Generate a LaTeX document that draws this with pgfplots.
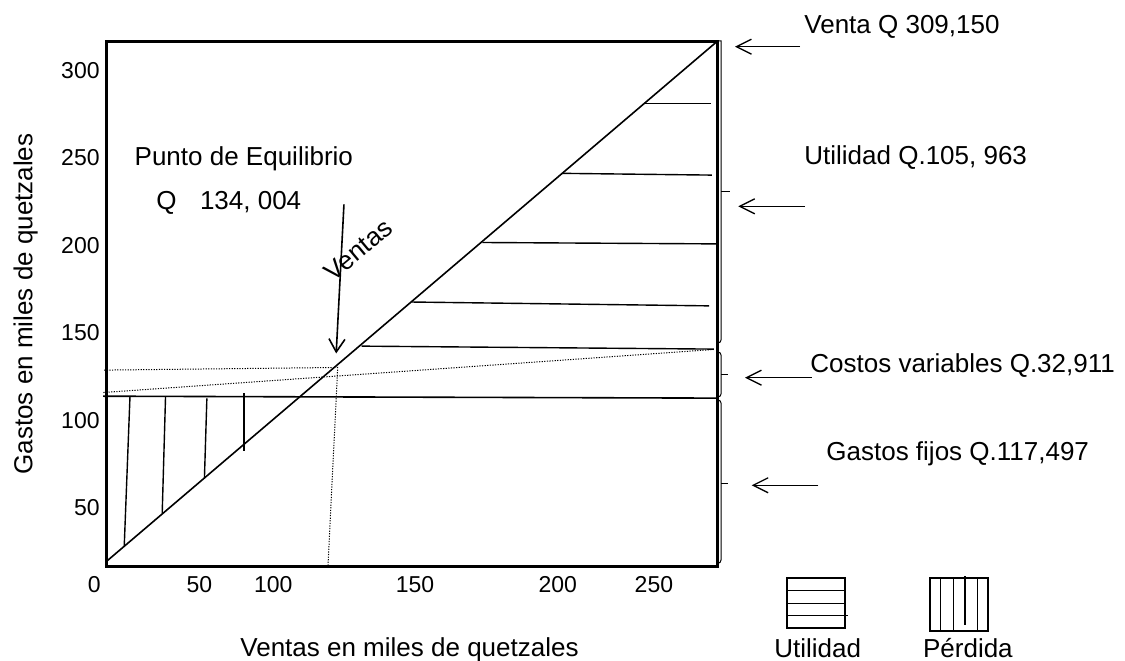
\documentclass[border=0pt]{standalone}
\usepackage{fontspec}
\setmainfont{Liberation Sans}
\usepackage{pgfplots}
\pgfplotsset{compat=1.18}
\usetikzlibrary{arrows.meta}

\newcommand{\bigf}{\fontsize{13}{15.6}\selectfont}

\begin{document}
\begin{tikzpicture}
\useasboundingbox (0,0) rectangle (562.5pt,330pt);
\begin{axis}[
  at={(53pt,47pt)}, anchor=south west,
  scale only axis, width=305.5pt, height=262.5pt,
  xmin=0, xmax=275, ymin=16.9, ymax=316.8,
  axis line style={line width=1.5pt},
  clip=false,
  major tick length=0pt,
  xtick={0,41.99,75.3,139.07,203.3,246.6},
  xticklabels={{\makebox[0pt]{0\hspace{11.7pt}}},50,100,150,200,250},
  ytick={50,100,150,200,250,300},
  tick label style={font=\fontsize{11.5}{13.8}\selectfont},
  /pgf/number format/assume math mode=true,
  xticklabel style={anchor=north, inner sep=0pt, yshift=-5pt},
  yticklabel style={anchor=east, inner sep=0pt, xshift=-3pt},
  xlabel={Ventas en miles de quetzales},
  ylabel={Gastos en miles de quetzales},
  label style={font=\bigf, inner sep=0pt},
  xlabel style={at={(axis description cs:0.2193,-0.1733)}, anchor=base west},
  ylabel style={at={(axis description cs:-0.1203,0.499)}, anchor=base},
]
% Sales line
\addplot[black, line width=0.8pt] coordinates {(0,19.3) (275,316.5)};
% Fixed costs
\addplot[black, line width=0.8pt] coordinates {(-1.3,113.9) (275,112.8)};
% Dotted lines
\addplot[black, line width=0.5pt, dash pattern=on 0.6pt off 0.7pt] coordinates {(-0.8,128.8) (103.6,130.3)};
\addplot[black, line width=0.5pt, dash pattern=on 0.6pt off 0.7pt] coordinates {(-1.2,116) (273.6,140.6)};
\addplot[black, line width=0.5pt, dash pattern=on 0.6pt off 0.7pt] coordinates {(104.3,130.6) (99.9,17)};
% Utilidad hatch (horizontal)
\addplot[black, line width=0.7pt] coordinates {(242.2,281.2) (272.3,281.2)};
\addplot[black, line width=0.7pt] coordinates {(205.3,241.2) (272.7,240.2)};
\addplot[black, line width=0.7pt] coordinates {(169.4,201.7) (275,200.9)};
\addplot[black, line width=0.7pt] coordinates {(137.5,167.7) (271.4,165.5)};
\addplot[black, line width=0.7pt] coordinates {(115,142.5) (273.6,140.8)};
% Perdida hatch (vertical)
\addplot[black, line width=0.7pt] coordinates {(10.8,113.9) (8.2,28.0)};
\addplot[black, line width=0.7pt] coordinates {(26.8,113.9) (25.3,47.3)};
\addplot[black, line width=0.7pt] coordinates {(45.4,112.6) (44.3,67.0)};
\addplot[black, line width=0.7pt] coordinates {(62.1,115.5) (62.1,82.7)};
% Ventas arrow
\draw[line width=0.8pt, -{Straight Barb[length=6.5pt,width=8pt]}] (axis cs:107.1,223.5) -- (axis cs:103.6,138.3);
\end{axis}

\begin{scope}[x=0.5pt,y=-0.5pt,yshift=330pt]
  % right double line
  \draw[line width=0.5pt] (721,41) -- (721,41);
  % brackets
  \begin{scope}[line width=0.5pt]
    \draw (716,41) -- (721,41) -- (721,340) to[out=-90,in=0] (718,343) -- (716,343);
    \draw (721,192) -- (730,192);
    \draw (716,352) -- (718,352) to[out=0,in=90] (721,355) -- (721,394) to[out=-90,in=0] (718,397) -- (716,397);
    \draw (721,374.3) -- (728,374.3);
    \draw (716,400) -- (718,400) to[out=0,in=90] (721,403) -- (721,560) to[out=-90,in=0] (718,563.3) -- (716,563.3);
    \draw (721,483.3) -- (728,483.3);
  \end{scope}
  % arrows
  \begin{scope}[line width=0.65pt, -{Straight Barb[length=7.5pt,width=7.5pt]}]
    \draw (800,46.7) -- (735,46.7);
    \draw (805,206.3) -- (738.3,206.3);
    \draw (811.7,377.7) -- (745,377.7);
    \draw (818.3,485.3) -- (751.7,485.3);
  \end{scope}
  % texts
  \begin{scope}[every node/.style={font=\bigf, inner sep=0pt, anchor=base west}]
    \node at (804,33.3) {Venta Q 309,150};
    \node at (804,165) {Utilidad Q.105, 963};
    \node at (810,372.7) {Costos variables Q.32,911};
    \node at (826,460) {Gastos fijos Q.117,497};
    \node at (134.3,165.7) {Punto de Equilibrio};
    \node at (156,209.3) {Q\hspace{11.7pt}134, 004};
    \node at (774,657) {Utilidad};
    \node at (922.7,657) {Pérdida};
  \end{scope}
  \node[font=\bigf, inner sep=0pt, rotate=39.8] at (358,250) {Ventas};
  % legend boxes
  \draw[line width=1pt] (787.3,577.7) rectangle (845,627.7);
  \draw[line width=0.6pt] (787.3,590.7) -- (845,590.7);
  \draw[line width=0.6pt] (787.3,603.3) -- (845,603.3);
  \draw[line width=0.6pt] (787.3,615.7) -- (847.7,615.7);
  \draw[line width=1pt] (930,578.3) rectangle (988.3,631);
  \draw[line width=0.6pt] (940.7,578.3) -- (940.7,631);
  \draw[line width=0.6pt] (953.3,578.3) -- (953.3,631);
  \draw[line width=0.6pt] (965,576) -- (965,625);
  \draw[line width=0.6pt] (977.3,578.3) -- (977.3,631);
\end{scope}
\end{tikzpicture}
\end{document}
